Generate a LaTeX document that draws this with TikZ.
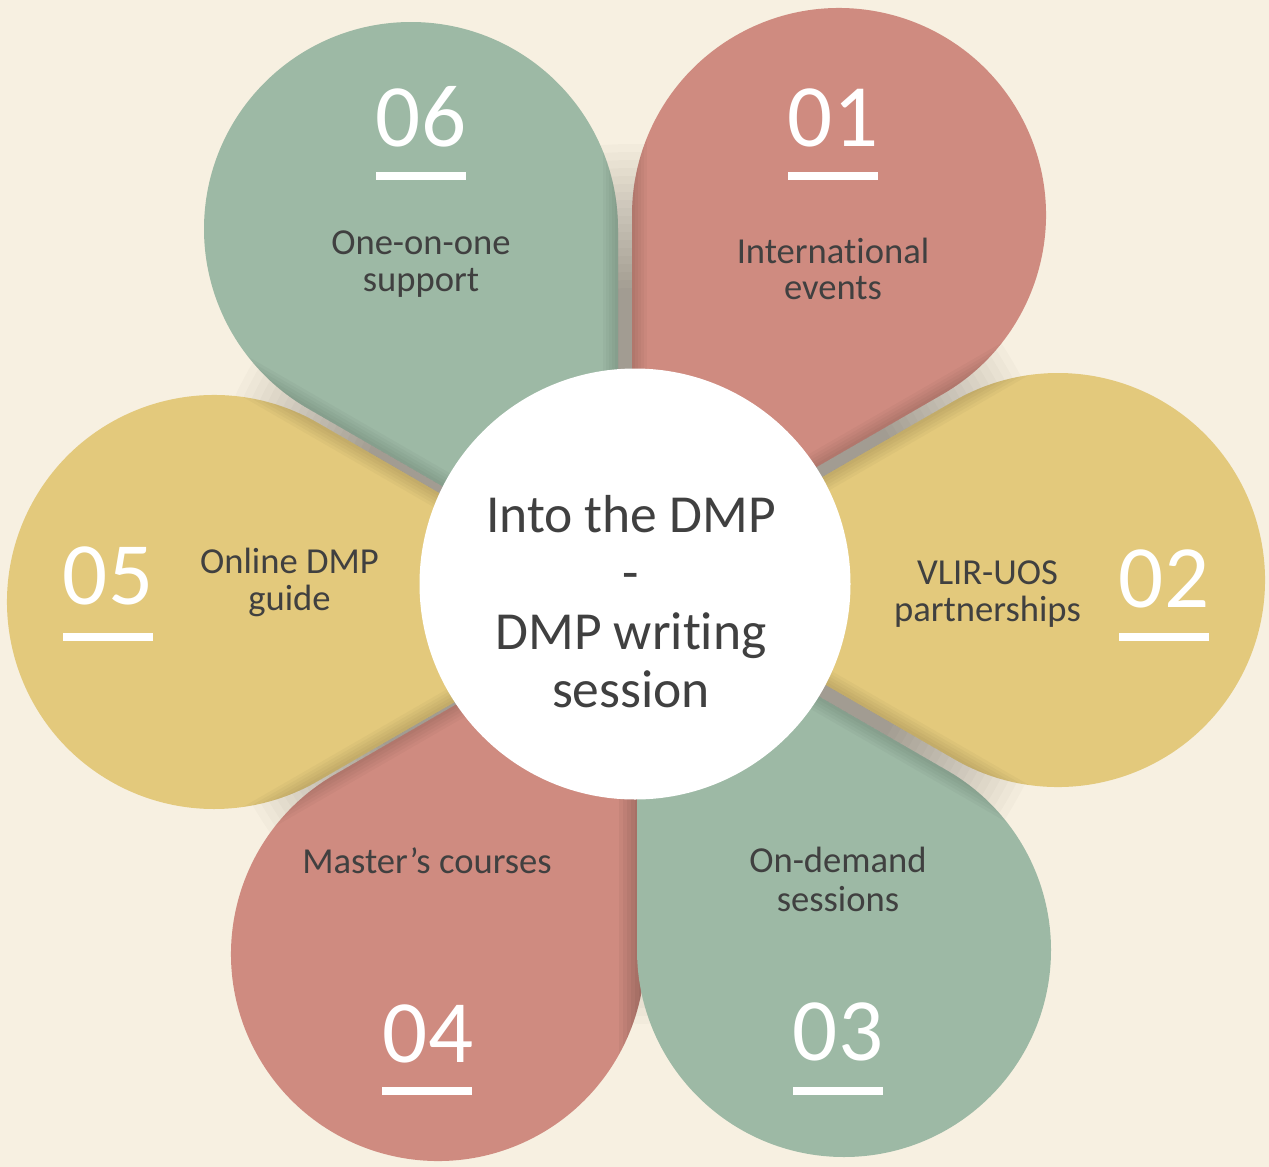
\documentclass[tikz,border=0pt]{standalone}
\usepackage{fontspec}
\setmainfont{Carlito}[Ligatures=NoCommon]
\usetikzlibrary{calc}
\definecolor{bgc}{HTML}{F7F0E1}
\definecolor{pred}{HTML}{CF8B80}
\definecolor{pgreen}{HTML}{9DB9A5}
\definecolor{pyellow}{HTML}{E3C97C}
\definecolor{txt}{HTML}{404040}
\newcommand\mkpetal[4]{%
  \coordinate (C#1) at (#2,-#3);
  \coordinate (T#1) at ($(C#1)+(#4+180:414)$);
  \coordinate (A#1) at ($(C#1)+(#4-120:207)$);
  \coordinate (B#1) at ($(C#1)+(#4+120:207)$);
}
% darken one straight edge (#3 = A or B) of petal #1 (axis #2)
\newcommand\shadeedge[3]{%
  \begin{scope}
    \clip[petal={#1}{#2}];
    \foreach \w in {30,24,18,12,6}{
      \draw[black, opacity=0.028, line width=\w pt] (T#1) -- ($(T#1)!1.25!(#3#1)$);
    }
  \end{scope}}
\begin{document}
\begin{tikzpicture}[x=1pt,y=1pt,
  lbl/.style={font=\fontsize{36.6}{44}\selectfont, text=txt, anchor=base, inner sep=0pt},
  num/.style={font=\fontsize{89}{96}\selectfont, text=white, anchor=base, inner sep=0pt},
  ctext/.style={font=\fontsize{53.5}{60}\selectfont, text=txt, anchor=base, inner sep=0pt},
  petal/.style 2 args={insert path={(T#1) -- (A#1) arc[start angle=#2-120, end angle=#2+120, radius=207pt] -- cycle}},
  bar/.style={fill=white}
]
\fill[bgc] (0,0) rectangle (1269,-1167);
\useasboundingbox (0,0) rectangle (1269,-1167);

\mkpetal{01}{839}{215}{60}
\mkpetal{02}{1058}{580}{0}
\mkpetal{03}{844}{950}{-60}
\mkpetal{04}{438}{954}{240}
\mkpetal{05}{214}{602}{180}
\mkpetal{06}{411}{229}{120}

% soft shadow seen in the gaps between petals
\coordinate (mid) at (633,-584);
\foreach \r in {440,432,...,296}{
  \fill[black, opacity=0.0186] (mid) circle[radius=\r pt];
}

% petals
\fill[pyellow, petal={05}{180}];
\shadeedge{05}{180}{A}\shadeedge{05}{180}{B}
\fill[pgreen, petal={06}{120}];
\shadeedge{06}{120}{A}\shadeedge{06}{120}{B}
\fill[pred, petal={01}{60}];
\shadeedge{01}{60}{A}\shadeedge{01}{60}{B}
\fill[pyellow, petal={02}{0}];
\shadeedge{02}{0}{A}\shadeedge{02}{0}{B}
\fill[pred, petal={04}{240}];
\shadeedge{04}{240}{A}
\begin{scope}
  \clip[petal={04}{240}];
  \foreach \w in {52,44,36,28,20,12,6}{
    \draw[black, opacity=0.04, line width=\w pt] (T04) -- ($(T04)!1.3!(B04)$);
  }
\end{scope}
\fill[pgreen, petal={03}{-60}];
\shadeedge{03}{-60}{B}

% centre
\node[circle, fill=white, minimum size=431pt, inner sep=0pt] (hub) at (635,-584) {};
\node[ctext] (c1) at (631,-532) {Into the DMP};
\node[ctext] (c2) at (631,-590.5) {-};
\node[ctext] (c3) at (631,-649) {DMP writing};
\node[ctext] (c4) at (631,-707) {session};

% numbers and bars
\node[num] (n06) at (421,-146) {06};
\fill[bar] (376,-172) rectangle (466,-180);
\node[num] (n01) at (833,-146) {01};
\fill[bar] (787.5,-172) rectangle (877.5,-180);
\node[num] (n02) at (1164,-607) {02};
\fill[bar] (1119,-633) rectangle (1209,-641);
\node[num] (n05) at (108,-604) {05};
\fill[bar] (63,-633) rectangle (153,-641);
\node[num] (n04) at (428,-1062) {04};
\fill[bar] (382,-1087) rectangle (472,-1095);
\node[num] (n03) at (838,-1060) {03};
\fill[bar] (793,-1087) rectangle (883,-1095);

% labels
\node[lbl] (l06a) at (421,-254) {One-on-one};
\node[lbl] (l06b) at (421,-291) {support};
\node[lbl] (l01a) at (833,-263) {International};
\node[lbl] (l01b) at (833,-299) {events};
\node[lbl] (l02a) at (987.5,-584) {VLIR-UOS};
\node[lbl] (l02b) at (987.5,-621) {partnerships};
\node[lbl] (l05a) at (289.5,-573) {Online DMP};
\node[lbl] (l05b) at (289.5,-610) {guide};
\node[lbl] (l04a) at (427,-873) {Master’s courses};
\node[lbl] (l03a) at (838,-872) {On-demand};
\node[lbl] (l03b) at (838,-911) {sessions};
\end{tikzpicture}
\end{document}
